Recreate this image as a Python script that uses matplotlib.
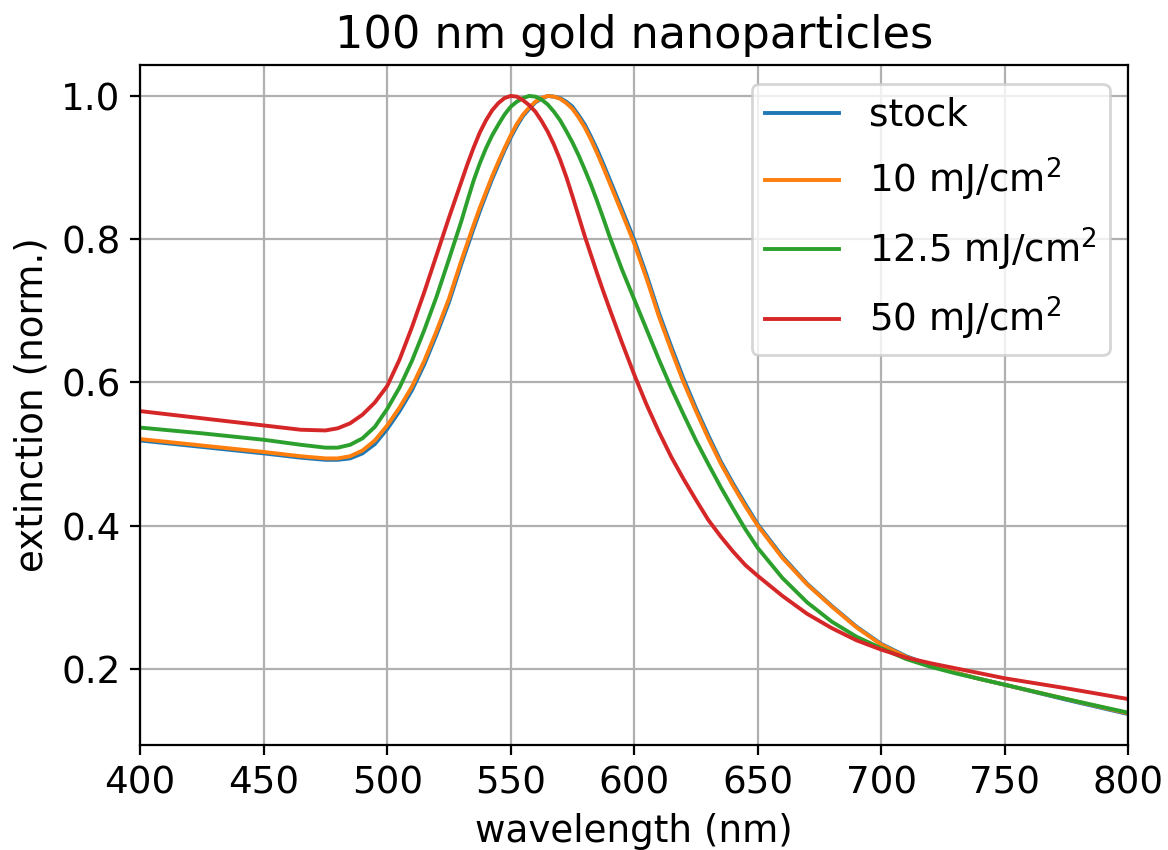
import matplotlib
matplotlib.use('Agg')
from matplotlib import pyplot as plt

# wavelength grid (nm) shared by all spectra
wavelength = [400, 425, 450, 465, 475,
              480, 485, 490, 495, 500, 505, 510, 515, 520, 525,
              530, 532.5, 535, 537.5, 540, 542.5, 545, 547.5, 550, 552.5,
              555, 557.5, 560, 562.5, 565, 567.5, 570, 572.5, 575, 577.5,
              580, 582.5, 585, 587.5, 590,
              595, 600, 605, 610, 615, 620, 625, 630, 635, 640, 645, 650,
              660, 670, 680, 690, 700, 710, 720, 730, 740, 750, 775, 800]

# normalised extinction
stock = [0.519, 0.510, 0.501, 0.495, 0.492,
         0.492, 0.494, 0.501, 0.514, 0.535, 0.560, 0.589, 0.625, 0.667, 0.712,
         0.765, 0.790, 0.815, 0.839, 0.862, 0.884, 0.904, 0.924, 0.942, 0.958,
         0.972, 0.982, 0.991, 0.996, 1.000, 0.999, 0.997, 0.992, 0.985, 0.973,
         0.960, 0.943, 0.925, 0.905, 0.884,
         0.842, 0.799, 0.750, 0.697, 0.650, 0.605, 0.564, 0.526, 0.490, 0.459,
         0.430, 0.402,
         0.357, 0.319, 0.288, 0.259, 0.235, 0.218, 0.205, 0.195, 0.186, 0.178,
         0.157, 0.137]

f10 = [0.521, 0.512, 0.503, 0.497, 0.494,
       0.494, 0.497, 0.505, 0.519, 0.540, 0.565, 0.594, 0.630, 0.672, 0.717,
       0.770, 0.795, 0.820, 0.844, 0.866, 0.888, 0.908, 0.927, 0.945, 0.961,
       0.974, 0.984, 0.992, 0.997, 1.000, 0.999, 0.996, 0.990, 0.982, 0.970,
       0.956, 0.939, 0.920, 0.900, 0.879,
       0.837, 0.794, 0.745, 0.692, 0.645, 0.600, 0.560, 0.522, 0.487, 0.456,
       0.427, 0.400,
       0.355, 0.318, 0.287, 0.258, 0.234, 0.217, 0.205, 0.195, 0.186, 0.178,
       0.158, 0.138]

f12_5 = [0.537, 0.529, 0.520, 0.513, 0.509,
         0.509, 0.513, 0.522, 0.538, 0.563, 0.593, 0.630, 0.673, 0.720, 0.772,
         0.825, 0.854, 0.882, 0.906, 0.927, 0.945, 0.960, 0.974, 0.985, 0.992,
         0.997, 1.000, 0.999, 0.995, 0.988, 0.978, 0.966, 0.951, 0.935, 0.917,
         0.897, 0.876, 0.853, 0.829, 0.804,
         0.758, 0.716, 0.674, 0.632, 0.592, 0.555, 0.519, 0.486, 0.454, 0.424,
         0.395, 0.369,
         0.327, 0.293, 0.266, 0.245, 0.229, 0.214, 0.203, 0.194, 0.186, 0.178,
         0.158, 0.139]

f50 = [0.560, 0.550, 0.540, 0.534, 0.533,
       0.536, 0.543, 0.555, 0.572, 0.595, 0.632, 0.677, 0.726, 0.778, 0.830,
       0.880, 0.905, 0.928, 0.949, 0.966, 0.980, 0.990, 0.997, 1.000, 0.999,
       0.994, 0.987, 0.978, 0.965, 0.950, 0.932, 0.911, 0.887, 0.860, 0.832,
       0.804, 0.778, 0.752, 0.727, 0.703,
       0.656, 0.611, 0.569, 0.531, 0.496, 0.465, 0.436, 0.408, 0.385, 0.364,
       0.345, 0.330,
       0.302, 0.277, 0.257, 0.240, 0.227, 0.216, 0.208, 0.201, 0.194, 0.187,
       0.173, 0.158]

labels = ['stock', '10 mJ/cm$^2$', '12.5 mJ/cm$^2$', '50 mJ/cm$^2$']

plt.rcParams['font.size'] = 13.4

fig, ax = plt.subplots(figsize=(5.84, 4.25), dpi=200)
fig.subplots_adjust(left=0.12, right=0.966, top=0.9235, bottom=0.1235)

for series, lab in zip([stock, f10, f12_5, f50], labels):
    ax.plot(wavelength, series, lw=1.4, label=lab)

ax.set_xlim(400, 800)
ax.grid(True)
ax.set_xlabel('wavelength (nm)')
ax.set_ylabel('extinction (norm.)')
ax.set_title('100 nm gold nanoparticles')
ax.legend(loc='upper right', labelspacing=0.6, borderpad=0.35)

fig.savefig('out.png', dpi=200)
